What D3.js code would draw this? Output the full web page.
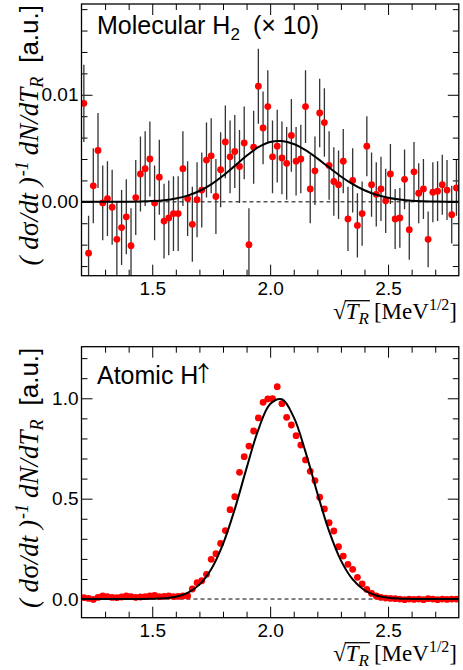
<!DOCTYPE html>
<html lang="en">
<head>
<meta charset="UTF-8">
<title>Recoil spectra</title>
<script src="https://cdn.jsdelivr.net/npm/d3@7"></script>
<style>
  body { margin: 0; background: #fff; }
  svg text { font-family: "Liberation Sans", Arial, sans-serif; fill: #000; }
</style>
</head>
<body>
<svg width="463" height="670"></svg>
<script>
// bin centres (sqrt(T_R), MeV^1/2)
const xBins = [1.21,1.23,1.25,1.27,1.29,1.31,1.33,1.35,1.37,1.39,1.41,1.43,1.45,1.47,1.49,1.51,1.53,1.55,1.57,1.59,
  1.61,1.63,1.65,1.67,1.69,1.71,1.73,1.75,1.77,1.79,1.81,1.83,1.85,1.87,1.89,1.91,1.93,1.95,1.97,1.99,
  2.01,2.03,2.05,2.07,2.09,2.11,2.13,2.15,2.17,2.19,2.21,2.23,2.25,2.27,2.29,2.31,2.33,2.35,2.37,2.39,
  2.41,2.43,2.45,2.47,2.49,2.51,2.53,2.55,2.57,2.59,2.61,2.63,2.65,2.67,2.69,2.71,2.73,2.75,2.77,2.79];

// molecular H2 (x10)
const molY = [0.0092,-0.0048,0.0015,0.0048,-0.0001,0.0003,-0.0005,-0.0035,-0.0024,-0.0014,
  -0.0041,0.0004,0.0026,0.0031,0.0040,-0.0001,0.0023,-0.0018,-0.0015,-0.0011,
  -0.0011,0.0031,0.0003,-0.0021,0.0002,0.0011,0.0039,0.0043,0.0005,0.0030,
  0.0056,0.0042,0.0047,0.0033,0.0055,-0.0040,0.0051,0.0108,0.0069,0.0089,
  0.0042,0.0052,0.0041,0.0036,0.0062,0.0038,0.0040,0.0089,0.0012,0.0029,
  0.0083,0.0074,0.0034,0.0019,0.0016,0.0038,-0.0016,0.0020,-0.0022,-0.0011,
  0.0052,0.0016,0.0007,0.0012,0.0001,0.0026,-0.0016,-0.0015,0.0021,-0.0026,
  0.0028,0.0008,0.0012,-0.0035,0.0009,0.0010,0.0016,0.0011,-0.0012,0.0013];
const molErr = [0.0036,0.0035,0.0035,0.0035,0.0035,0.0035,0.0035,0.0035,0.0035,0.0035,
  0.0035,0.0035,0.0035,0.0035,0.0035,0.0035,0.0035,0.0035,0.0035,0.0035,
  0.0035,0.0035,0.0035,0.0035,0.0035,0.0035,0.0035,0.0035,0.0035,0.0035,
  0.0034,0.0034,0.0034,0.0034,0.0034,0.0034,0.0034,0.0035,0.0034,0.0034,
  0.0034,0.0034,0.0034,0.0034,0.0034,0.0032,0.0032,0.0034,0.0032,0.0032,
  0.0032,0.0032,0.0032,0.0032,0.0032,0.0030,0.0030,0.0030,0.0030,0.0030,
  0.0028,0.0030,0.0030,0.0030,0.0030,0.0028,0.0028,0.0028,0.0028,0.0028,
  0.0028,0.0028,0.0028,0.0026,0.0028,0.0028,0.0028,0.0028,0.0027,0.0026];

// atomic H
const atomY = [0.007,0.003,-0.002,0.008,0.015,0.012,0.008,0.007,0.010,0.015,
  0.012,0.008,0.010,0.012,0.015,0.018,0.012,0.013,0.015,0.012,
  0.013,0.015,0.015,0.050,0.081,0.091,0.123,0.198,0.226,0.277,
  0.341,0.445,0.510,0.631,0.709,0.762,0.837,0.902,0.980,0.997,
  0.998,1.058,0.973,0.905,0.867,0.814,0.767,0.693,0.636,0.590,
  0.507,0.449,0.380,0.339,0.261,0.214,0.173,0.148,0.108,0.075,
  0.048,0.028,0.015,0.008,0.005,0.003,0.002,0.000,-0.003,0.000,
  -0.002,0.000,-0.003,0.002,0.000,-0.003,0.000,-0.002,0.000,0.000];

// fitted curves
const fitX = [1.20,1.25,1.30,1.35,1.40,1.45,1.50,1.55,1.60,1.65,1.70,1.75,1.80,1.85,1.90,1.95,2.00,
  2.05,2.10,2.15,2.20,2.25,2.30,2.35,2.40,2.45,2.50,2.55,2.60,2.65,2.70,2.75,2.80];
const molFit = [0,0,0,0,0.00001,0.00003,0.00007,0.00015,0.00031,0.00058,0.00101,0.00163,0.00243,0.00336,0.0043,0.0051,0.00559,
  0.00568,0.0054,0.00483,0.00406,0.0032,0.00237,0.00165,0.00108,0.00066,0.00038,0.00021,0.0001,0.00005,0.00002,0,0];
const atomFit = [0,0,0,0,0,0.0003,0.0012,0.004,0.0118,0.0309,0.0719,0.1488,0.2739,0.448,0.652,0.844,0.972,
  0.995,0.906,0.733,0.528,0.338,0.1926,0.0976,0.0439,0.0176,0.0063,0.002,0.0006,0,0,0,0];

const xMajor = [1.5, 2.0, 2.5];
const xMinor = [1.3,1.4,1.6,1.7,1.8,1.9,2.1,2.2,2.3,2.4,2.6,2.7];

const svg = d3.select('svg');
const left = 81.5, right = 458.8;
const scaleX = d3.scaleLinear().domain([1.2, 2.8]).range([left, right]);
const serif = '"Liberation Serif", "Times New Roman", serif';

function panel(cfg) {
  const scaleY = d3.scaleLinear().domain(cfg.yDomain).range([cfg.bottom, cfg.top]);
  const g = svg.append('g');
  const clipId = 'clip' + cfg.id;
  g.append('clipPath').attr('id', clipId).append('rect')
    .attr('x', left).attr('y', cfg.top).attr('width', right - left).attr('height', cfg.bottom - cfg.top);

  // axes, ticks pointing inward
  const ax = (gen, tx, ty, ticks, size, fmt) => {
    const a = g.append('g').attr('transform', `translate(${tx},${ty})`)
      .call(gen.tickValues(ticks).tickSizeInner(-size).tickSizeOuter(0).tickPadding(4)
        .tickFormat(fmt || ''));
    a.select('.domain').remove();
    a.selectAll('line').attr('stroke', '#000');
    a.selectAll('text').style('font-size', '19px').attr('fill', '#000')
      .style('font-family', '"Liberation Sans", Arial, sans-serif');
    return a;
  };
  ax(d3.axisBottom(scaleX), 0, cfg.bottom, xMajor, 11, d3.format('.1f')).selectAll('text').attr('y', 6);
  ax(d3.axisBottom(scaleX), 0, cfg.bottom, xMinor, 6);
  ax(d3.axisTop(scaleX), 0, cfg.top, xMajor, 11);
  ax(d3.axisTop(scaleX), 0, cfg.top, xMinor, 6);
  ax(d3.axisLeft(scaleY), left, 0, cfg.yMajor, 11, d3.format(cfg.yFmt)).selectAll('text').attr('x', -3);
  ax(d3.axisLeft(scaleY), left, 0, cfg.yMinor, 6);
  ax(d3.axisRight(scaleY), right, 0, cfg.yMajor, 11);
  ax(d3.axisRight(scaleY), right, 0, cfg.yMinor, 6);

  // zero line
  g.append('line')
    .attr('x1', left).attr('x2', right).attr('y1', scaleY(0)).attr('y2', scaleY(0))
    .attr('stroke', '#000').attr('stroke-width', 1).attr('stroke-dasharray', '4,3');

  const pts = cfg.y.map((v, i) => ({x: xBins[i], y: v, e: cfg.err ? cfg.err[i] : 0}));
  const plot = g.append('g').attr('clip-path', `url(#${clipId})`);
  if (cfg.err) {
    plot.selectAll('line.err').data(pts).enter().append('line').attr('class', 'err')
      .attr('x1', d => scaleX(d.x)).attr('x2', d => scaleX(d.x))
      .attr('y1', d => scaleY(d.y - d.e)).attr('y2', d => scaleY(d.y + d.e))
      .attr('stroke', '#333').attr('stroke-width', 1.3);
  }
  plot.selectAll('circle').data(pts).enter().append('circle')
    .attr('cx', d => scaleX(d.x)).attr('cy', d => scaleY(d.y)).attr('r', 3.4)
    .attr('fill', '#ff0000');

  const line = d3.line().x((d, i) => scaleX(fitX[i])).y(d => scaleY(d)).curve(d3.curveCatmullRom.alpha(0.5));
  plot.append('path').datum(cfg.fit).attr('d', line)
    .attr('fill', 'none').attr('stroke', '#000').attr('stroke-width', 2);

  // frame
  g.append('rect').attr('x', left).attr('y', cfg.top).attr('width', right - left).attr('height', cfg.bottom - cfg.top)
    .attr('fill', 'none').attr('stroke', '#000').attr('stroke-width', 1.3);

  // y title
  const yt = g.append('text').attr('transform', `translate(38,${cfg.top + 1}) rotate(-90)`)
    .attr('text-anchor', 'end').style('font-size', '27px');
  yt.append('tspan').style('font-family', serif).style('font-style', 'italic').text('( d');
  yt.append('tspan').style('font-family', serif).text('σ');
  yt.append('tspan').style('font-family', serif).style('font-style', 'italic').text('/dt )');
  yt.append('tspan').style('font-family', serif).style('font-style', 'italic').style('font-size', '18px')
    .attr('dy', -10).attr('dx', 1).text('-1');
  yt.append('tspan').style('font-family', serif).style('font-style', 'italic').attr('dy', 10).attr('dx', 6).text('dN/dT');
  yt.append('tspan').style('font-family', serif).style('font-style', 'italic').style('font-size', '18px')
    .attr('dy', 5).text('R');
  yt.append('tspan').style('font-size', '26px').attr('dy', -5).attr('dx', 14).text('[a.u.]');

  // x title with a radical
  const xt = g.append('text').attr('x', 457).attr('y', cfg.bottom + 43).attr('text-anchor', 'end')
    .style('font-family', serif).style('font-size', '23px');
  xt.append('tspan').text('√');
  xt.append('tspan').style('font-style', 'italic').text('T');
  xt.append('tspan').style('font-style', 'italic').style('font-size', '17px').attr('dy', 5).text('R');
  xt.append('tspan').attr('dy', -5).attr('dx', 5).text('[MeV');
  xt.append('tspan').style('font-size', '16px').attr('dy', -9).text('1/2');
  xt.append('tspan').attr('dy', 9).text(']');
  const n = xt.node();
  const r0 = n.getExtentOfChar(0), r2 = n.getExtentOfChar(2);
  g.append('line').attr('x1', r0.x + r0.width - 1).attr('x2', r2.x + r2.width + 1)
    .attr('y1', cfg.bottom + 25).attr('y2', cfg.bottom + 25).attr('stroke', '#000').attr('stroke-width', 1.3);

  // panel label
  cfg.label(g.append('text').attr('x', 97).attr('y', cfg.top + 30).style('font-size', '25px'));
}

panel({
  id: 'mol', top: 4, bottom: 275.7, yDomain: [-0.0069, 0.01848],
  yMajor: [0, 0.01], yMinor: [-0.006,-0.004,-0.002,0.002,0.004,0.006,0.008,0.012,0.014,0.016,0.018], yFmt: '.2f',
  y: molY, err: molErr, fit: molFit,
  label: t => {
    t.append('tspan').text('Molecular H');
    t.append('tspan').style('font-size', '17px').attr('dy', 6).text('2');
    t.append('tspan').attr('x', 253).attr('dy', -6).text('(× 10)');
  }
});

panel({
  id: 'atom', top: 346.7, bottom: 617.7, yDomain: [-0.093, 1.257],
  yMajor: [0, 0.5, 1.0], yMinor: [0.1,0.2,0.3,0.4,0.6,0.7,0.8,0.9,1.1,1.2], yFmt: '.1f',
  y: atomY, err: null, fit: atomFit,
  label: t => {
    t.attr('y', 383.5);
    t.append('tspan').text('Atomic H');
    t.append('tspan').style('font-family', '"Noto Sans CJK JP", "DejaVu Sans", sans-serif')
      .style('font-size', '22px').attr('dx', -6).attr('dy', -3).text('↑\uFE0E');
  }
});
</script>
</body>
</html>
